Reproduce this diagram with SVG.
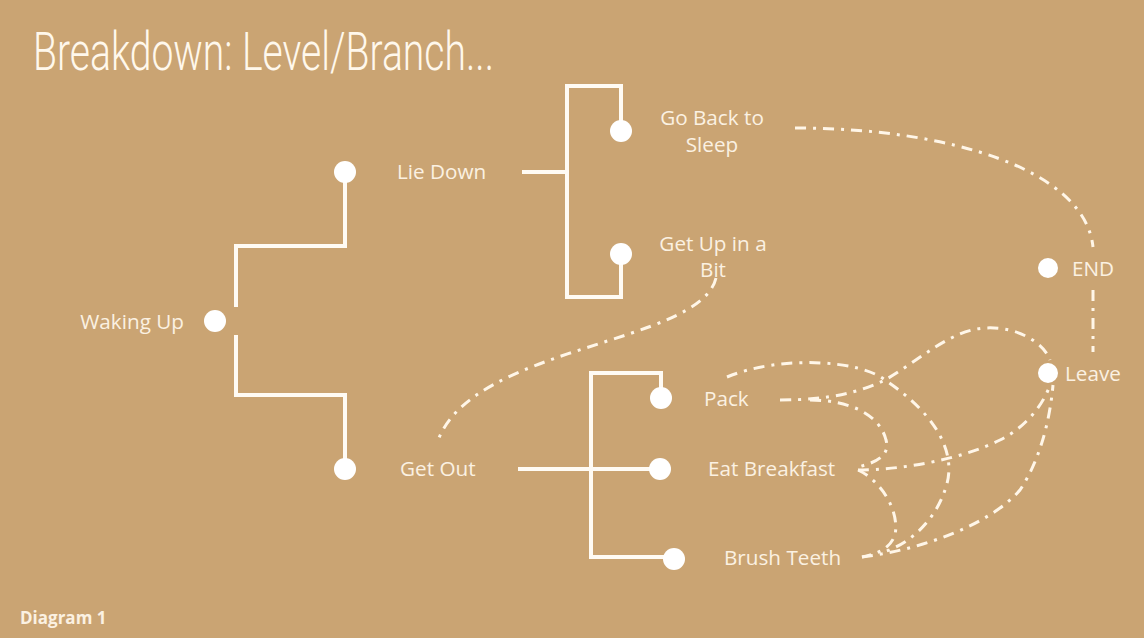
<svg xmlns="http://www.w3.org/2000/svg" width="1144" height="638" viewBox="0 0 1144 638">
<style>
.bg{fill:#CAA473}
.title{font-family:Roboto,"Liberation Sans",sans-serif;font-weight:300;font-size:54px;fill:#FFF8EC}
.lbl{font-family:"Open Sans","Liberation Sans",sans-serif;font-size:20.7px;fill:#FBF1E2}
.cap{font-family:"Open Sans","Liberation Sans",sans-serif;font-weight:700;font-size:17px;fill:#FBF1E2}
.dot{fill:#FFFFFF}
.solid{fill:none;stroke:#FFFBF4;stroke-width:4}
.dash{fill:none;stroke:#FFF6E8;stroke-width:3;stroke-dasharray:11 7 3 7}
</style>
<rect class="bg" x="0" y="0" width="1144" height="638"/>
<text class="title" x="33" y="70" textLength="461" lengthAdjust="spacingAndGlyphs">Breakdown: Level/Branch...</text>
<g id="connectors">
<path class="solid" d="M236,307 V246 H345 V172"/>
<path class="solid" d="M236,335 V395 H345 V469"/>
<path class="solid" d="M522,172 H567"/>
<path class="solid" d="M621,131 V86 H567 V297 H621 V254"/>
<path class="solid" d="M518,469 H660"/>
<path class="solid" d="M661,398 V373 H591 V557 H674"/>
<path class="dash" d="M795,128 C950,128 1085,170 1093,247"/>
<path class="dash" d="M1093,290 L1093,352"/>
<path class="dash" d="M716,278 C700,345 470,345 437,443"/>
<path class="dash" d="M727,377 C780,355 860,360 885,380 C930,410 960,450 945,490 C935,520 910,545 880,553"/>
<path class="dash" d="M780,400 C830,400 860,392 885,380 C920,360 950,330 985,328 C1020,326 1045,345 1050,360"/>
<path class="dash" d="M810,400 C850,400 880,415 886,440 C890,455 878,462 858,467"/>
<path class="dash" d="M858,470 C900,470 960,460 1000,440 C1030,425 1045,400 1050,385"/>
<path class="dash" d="M858,470 C880,480 900,510 895,535 C890,548 880,553 862,557"/>
<path class="dash" d="M862,557 C920,550 990,525 1020,490 C1040,460 1050,420 1053,385"/>
</g>
<g id="waking-up"><circle class="dot" cx="215" cy="321" r="11"/><text class="lbl" x="184" y="329" text-anchor="end">Waking Up</text></g>
<g id="lie-down"><circle class="dot" cx="345" cy="172" r="11"/><text class="lbl" x="397" y="179">Lie Down</text></g>
<g id="get-out"><circle class="dot" cx="345" cy="469" r="11"/><text class="lbl" x="400" y="476">Get Out</text></g>
<g id="go-back"><circle class="dot" cx="621" cy="131" r="11"/><text class="lbl" x="712" y="125" text-anchor="middle">Go Back to</text><text class="lbl" x="712" y="152" text-anchor="middle">Sleep</text></g>
<g id="get-up"><circle class="dot" cx="621" cy="254" r="11"/><text class="lbl" x="713" y="251" text-anchor="middle">Get Up in a</text><text class="lbl" x="713" y="277" text-anchor="middle">Bit</text></g>
<g id="pack"><circle class="dot" cx="661" cy="398" r="11"/><text class="lbl" x="704" y="406">Pack</text></g>
<g id="eat-breakfast"><circle class="dot" cx="660" cy="469" r="11"/><text class="lbl" x="708" y="476">Eat Breakfast</text></g>
<g id="brush-teeth"><circle class="dot" cx="674" cy="559" r="11"/><text class="lbl" x="724" y="565">Brush Teeth</text></g>
<g id="end"><circle class="dot" cx="1048" cy="268" r="10"/><text class="lbl" x="1072" y="276">END</text></g>
<g id="leave"><circle class="dot" cx="1048" cy="373" r="10"/><text class="lbl" x="1065" y="381">Leave</text></g>
<text class="cap" x="20" y="624">Diagram 1</text>
</svg>
